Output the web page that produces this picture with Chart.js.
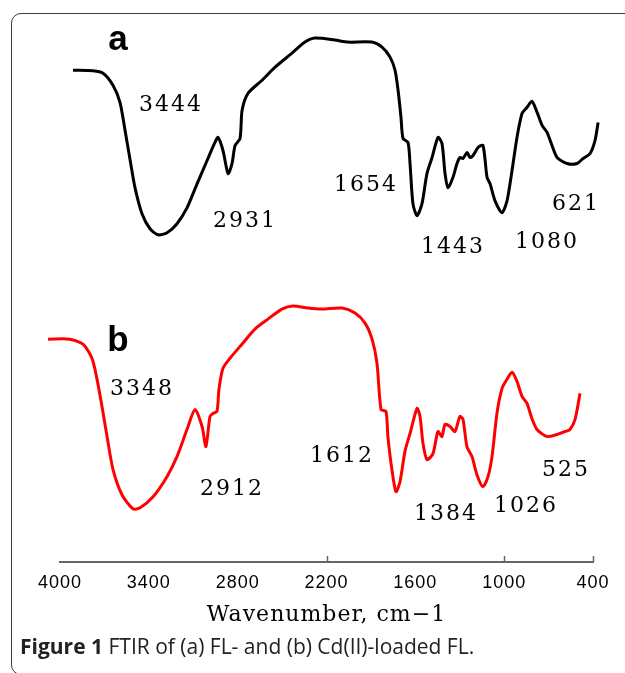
<!DOCTYPE html>
<html>
<head>
<meta charset="utf-8">
<title>FTIR of FL and Cd(II)-loaded FL</title>
<script src="https://cdn.jsdelivr.net/npm/chart.js@4"></script>
<style>
  html, body { margin: 0; padding: 0; background: #fff; }
  body { width: 625px; height: 673px; position: relative; overflow: hidden; }
  .frame {
    position: absolute; left: 11px; top: 13px; width: 660px; height: 662px;
    border: 1.5px solid #3c3c3c; border-radius: 10px; box-sizing: border-box;
  }
  #spectra { position: absolute; left: 0; top: 0; }
  .caption {
    position: absolute; left: 20px; top: 632px;
    font-family: "Open Sans", sans-serif; font-size: 21px; color: #222; white-space: nowrap;
  }
  .caption b { font-weight: 700; }
</style>
</head>
<body>
<div class="frame"></div>
<canvas id="spectra" width="625" height="640"></canvas>
<div class="caption"><b>Figure 1</b> FTIR of (a) FL- and (b) Cd(II)-loaded FL.</div>
<script>
// trace a: FL
const waveA = [4020, 3883, 3814, 3746, 3698, 3663, 3628, 3595, 3547, 3492, 3437, 3375, 3307, 3238, 3169,
  3101, 3047, 3026, 2992, 2957, 2930, 2909, 2875, 2861, 2820, 2724, 2635, 2519, 2430, 2361,
  2224, 2135, 1971, 1902, 1847, 1813, 1792, 1772, 1758, 1724, 1710, 1690, 1662, 1628, 1594,
  1559, 1518, 1491, 1470, 1450, 1416, 1388, 1367, 1347, 1319, 1299, 1278, 1244, 1210, 1182,
  1162, 1128, 1080, 1045, 1011, 977, 942, 908, 874, 839, 805, 771, 737, 702, 634,
  565, 524, 476, 442, 421];
const transA = [98, 97.9, 97.4, 95, 91.6, 86, 80, 74.6, 69.4, 66.4, 65.2, 65.6, 67.4, 70.6, 75.4,
  80, 83.6, 84.6, 82, 77.4, 79.4, 83, 84.4, 90, 93.4, 96, 98.6, 101.4, 103.6, 104.4,
  104, 103.6, 103.6, 102.6, 100.6, 98, 94, 88.6, 84.4, 83.6, 79.4, 71.4, 69, 71.4, 77.4,
  80.6, 84.6, 83.4, 77.4, 74.6, 76.6, 79.4, 80.6, 80.4, 81.6, 80.6, 81, 82.6, 83, 76.6,
  75.4, 72, 69.6, 72, 78, 84.6, 89.4, 90.6, 91.8, 89.6, 87, 85.6, 83, 80.6, 79.4,
  79.4, 80.4, 81.4, 84, 87.6];

// trace b: Cd(II)-loaded FL
const waveB = [3937, 3790, 3703, 3643, 3609, 3576, 3542, 3502, 3442, 3368, 3321, 3234, 3141, 3074, 3007,
  2953, 2906, 2880, 2853, 2833, 2806, 2793, 2766, 2719, 2639, 2552, 2465, 2371, 2297, 2197,
  2103, 1969, 1882, 1815, 1768, 1735, 1708, 1675, 1662, 1635, 1608, 1581, 1548, 1514, 1467,
  1447, 1427, 1400, 1360, 1327, 1300, 1280, 1246, 1213, 1180, 1159, 1133, 1099, 1066, 1026,
  992, 965, 932, 898, 865, 831, 798, 764, 731, 698, 664, 597, 530, 476, 443,
  409, 376];
const transB = [44.4, 44.4, 43.4, 40.6, 36.4, 31, 25, 18.4, 13.4, 10.6, 10.8, 13, 17, 21, 26.4,
  30.4, 27, 23, 29, 29.6, 30, 34.4, 38.6, 40.6, 43.4, 46.4, 48.4, 50.4, 51, 50.6,
  50.4, 50.6, 49.6, 47.6, 44.4, 39.6, 30.4, 30, 25, 18.4, 14, 16, 22, 25.6, 30.6,
  29, 23.6, 20.4, 21.6, 26, 25, 27.4, 27, 26, 29, 28.4, 23, 21, 17.4, 15,
  17, 21, 29.6, 34.6, 36.4, 37.8, 36, 33, 31.6, 28.6, 26.4, 25, 25.4, 26, 26.4,
  28.4, 33.6];

// band positions written next to each trace
const peaksA = [3444, 2931, 1654, 1443, 1080, 621];
const peaksB = [3348, 2912, 1612, 1384, 1026, 525];

const tickValues = [4000, 3400, 2800, 2200, 1600, 1000, 400];
const markedTicks = [2200, 1000, 400];

// where each band label sits relative to its point on the curve
const labelOffsetsA = [[12, -130], [12, 58], [-52, -30], [4, 60], [44, 30], [8, 41]];
const labelOffsetsB = [[8, -120], [29, 63], [-55, -35], [18, 55], [42, 20], [8, 36]];
const panelOffsets = [[45, -20], [70, 12]];

const toPoints = (xs, ys) => xs.map((x, i) => ({ x: x, y: ys[i] }));

function nearestIndex(data, w) {
  let best = 0;
  data.forEach((p, i) => { if (Math.abs(p.x - w) < Math.abs(data[best].x - w)) best = i; });
  return best;
}

const annotate = {
  id: 'annotate',
  beforeDraw(chart) {
    chart.ctx.letterSpacing = '1px';
  },
  afterDraw(chart) {
    const ctx = chart.ctx;
    const sets = [
      { peaks: peaksA, offsets: labelOffsetsA, name: 'a' },
      { peaks: peaksB, offsets: labelOffsetsB, name: 'b' }
    ];
    ctx.save();
    ctx.fillStyle = '#000';
    sets.forEach((set, i) => {
      const meta = chart.getDatasetMeta(i);
      const data = chart.data.datasets[i].data;
      ctx.font = '22px "DejaVu Serif"';
      ctx.letterSpacing = '2px';
      ctx.textAlign = 'center';
      ctx.textBaseline = 'middle';
      set.peaks.forEach((p, k) => {
        const pt = meta.data[nearestIndex(data, p)];
        const [dx, dy] = set.offsets[k];
        ctx.fillText(String(p), pt.x + dx + 1, pt.y + dy);
      });
      // panel letter
      const first = meta.data[0];
      ctx.font = 'bold 35px "Liberation Sans"';
      ctx.letterSpacing = '0px';
      ctx.textBaseline = 'alphabetic';
      ctx.fillText(set.name, first.x + panelOffsets[i][0], first.y + panelOffsets[i][1]);
    });

    // short inward tick marks on the wavenumber axis
    const xs = chart.scales.x;
    const bottom = chart.chartArea.bottom;
    ctx.strokeStyle = '#666';
    ctx.lineWidth = 1.5;
    markedTicks.forEach(v => {
      const px = Math.round(xs.getPixelForValue(v)) + 0.5;
      ctx.beginPath();
      ctx.moveTo(px, bottom - 6);
      ctx.lineTo(px, bottom);
      ctx.stroke();
    });
    ctx.restore();
  }
};

new Chart(document.getElementById('spectra').getContext('2d'), {
  type: 'line',
  data: {
    datasets: [
      {
        label: 'FL',
        data: toPoints(waveA, transA),
        xAxisID: 'xa',
        borderColor: '#000',
        borderWidth: 3,
        pointRadius: 0,
        tension: 0.25,
        clip: false
      },
      {
        label: 'Cd(II)-loaded FL',
        data: toPoints(waveB, transB),
        xAxisID: 'xb',
        borderColor: '#ff0000',
        borderWidth: 3,
        pointRadius: 0,
        tension: 0.25,
        clip: false
      }
    ]
  },
  options: {
    responsive: false,
    animation: false,
    devicePixelRatio: 1,
    layout: { padding: { left: 60, right: 32, top: 20, bottom: 12 } },
    plugins: { legend: { display: false }, tooltip: { enabled: false } },
    scales: {
      x: {
        type: 'linear',
        reverse: true,
        min: 400,
        max: 4000,
        afterBuildTicks: axis => { axis.ticks = tickValues.map(v => ({ value: v })); },
        grid: { display: false, drawTicks: false },
        border: { display: true, color: '#666', width: 2 },
        ticks: {
          padding: 10,
          color: '#000',
          font: { family: '"Liberation Sans"', size: 18 },
          maxRotation: 0,
          callback: v => String(v)
        },
        title: {
          display: true,
          text: 'Wavenumber, cm\u22121',
          color: '#000',
          font: { family: '"DejaVu Serif"', size: 22 },
          padding: { top: -2, bottom: 0 }
        }
      },
      // each spectrum carries its own wavenumber calibration
      xa: { type: 'linear', display: false, reverse: true, min: 456, max: 4109 },
      xb: { type: 'linear', display: false, reverse: true, min: 289, max: 3857 },
      y: { type: 'linear', display: false, min: 0, max: 108 }
    }
  },
  plugins: [annotate]
});
</script>
</body>
</html>
